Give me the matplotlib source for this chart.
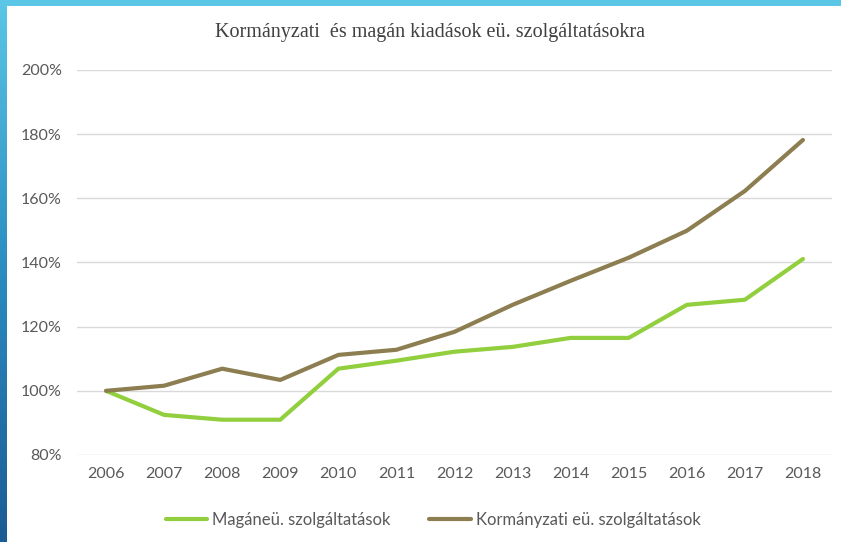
import numpy as np
import matplotlib
matplotlib.use("Agg")
import matplotlib.pyplot as plt
from matplotlib.patches import Rectangle

years = ["2006", "2007", "2008", "2009", "2010", "2011", "2012",
         "2013", "2014", "2015", "2016", "2017", "2018"]
magan = [100, 92.5, 91.0, 91.0, 106.9, 109.4, 112.2, 113.7, 116.5, 116.5, 126.8, 128.4, 141.1]
kormanyzati = [100, 101.6, 106.9, 103.4, 111.2, 112.8, 118.4, 126.8, 134.3, 141.5, 149.9, 162.3, 178.2]
yticks = [80, 100, 120, 140, 160, 180, 200]
title = "Kormányzati  és magán kiadások eü. szolgáltatásokra"
labels = ["Magáneü. szolgáltatások", "Kormányzati eü. szolgáltatások"]

W, H = 841, 542
fig = plt.figure(figsize=(W / 100, H / 100), dpi=100)
fig.patch.set_facecolor("white")

# frame decorations (top bar + left gradient bar)
deco = fig.add_axes([0, 0, 1, 1], zorder=-5)
deco.axis("off")
grad = np.linspace(0, 1, 256).reshape(-1, 1)
cmap = matplotlib.colors.LinearSegmentedColormap.from_list("b", ["#5BC6E6", "#2A8CC0", "#1A5C94"])
deco.imshow(grad, extent=(0, 7, H, 0), aspect="auto", cmap=cmap, origin="upper")
deco.add_patch(Rectangle((0, 0), W, 6, color="#5BC6E6", lw=0))
deco.set_xlim(0, W)
deco.set_ylim(H, 0)

ax = fig.add_axes([77 / W, 1 - 455 / H, (832 - 77) / W, (455 - 70) / H])
x = np.arange(len(years))
green = "#92CF3F"
olive = "#8C7E50"
ax.plot(x, magan, color=green, lw=3, solid_capstyle="round", solid_joinstyle="round", label=labels[0], zorder=3)
ax.plot(x, kormanyzati, color=olive, lw=3, solid_capstyle="round", solid_joinstyle="round", label=labels[1], zorder=3)

ax.set_xlim(-0.5, len(years) - 0.5)
ax.set_ylim(80, 200)
ax.set_yticks(yticks)
ax.set_yticklabels([f"{v}%" for v in yticks])
ax.set_xticks(x)
ax.set_xticklabels(years)
ax.grid(axis="y", color="#D9D9D9", lw=1)
ax.set_axisbelow(True)
for s in ax.spines.values():
    s.set_visible(False)
ax.tick_params(length=0, colors="#595959", labelsize=11.5)
ax.tick_params(axis="y", pad=11)
ax.tick_params(axis="x", pad=9)
for lab in ax.get_xticklabels() + ax.get_yticklabels():
    lab.set_fontfamily("Lato")

fig.text(430 / W, 1 - 32 / H, title, ha="center", va="center",
         fontsize=14.5, color="#404040", fontfamily="Liberation Serif")

leg = fig.legend(loc="center", bbox_to_anchor=(433 / W, 1 - 520 / H), ncol=2, frameon=False,
                 handlelength=2.5, columnspacing=2.3, handletextpad=0.3,
                 prop={"family": "Lato", "size": 12})
for t in leg.get_texts():
    t.set_color("#595959")

fig.savefig("out.png", dpi=100)
